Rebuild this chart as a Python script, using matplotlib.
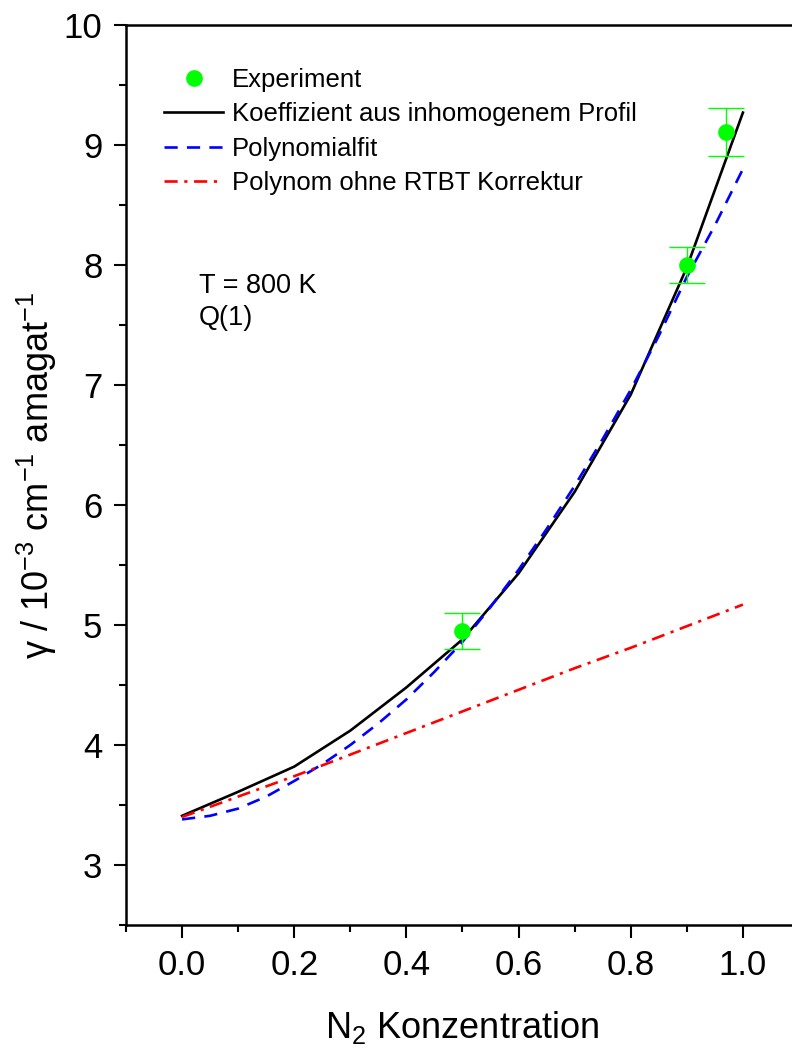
import matplotlib
matplotlib.use("Agg")
import matplotlib.pyplot as plt
from matplotlib.lines import Line2D
from matplotlib.ticker import MultipleLocator, FormatStrFormatter

plt.rcParams['font.family'] = ['Liberation Sans', 'DejaVu Sans']
plt.rcParams['mathtext.fontset'] = 'custom'
plt.rcParams['mathtext.rm'] = 'Liberation Sans'
plt.rcParams['mathtext.it'] = 'Liberation Sans:italic'
plt.rcParams['mathtext.bf'] = 'Liberation Sans:bold'

# Daten
x_exp = [0.5, 0.9, 0.97]
y_exp = [4.95, 8.0, 9.11]
err_exp = [0.15, 0.15, 0.2]

x_koef = [0.0, 0.1, 0.2, 0.3, 0.4, 0.5, 0.6, 0.7, 0.8, 0.9, 1.0]
y_koef = [3.41, 3.61, 3.82, 4.12, 4.48, 4.88, 5.43, 6.11, 6.92, 7.98, 9.27]

x_fit = [0.0, 0.05, 0.1, 0.15, 0.2, 0.25, 0.3, 0.35, 0.4, 0.45, 0.5,
         0.55, 0.6, 0.65, 0.7, 0.75, 0.8, 0.85, 0.9, 0.95, 1.0]
y_fit = [3.38, 3.41, 3.47, 3.57, 3.70, 3.84, 4.00, 4.18, 4.38, 4.61, 4.86,
         5.15, 5.46, 5.80, 6.16, 6.55, 6.96, 7.41, 7.90, 8.33, 8.80]

x_ohne = [0.0, 0.1, 0.2, 0.3, 0.4, 0.5, 0.6, 0.7, 0.8, 0.9, 1.0]
y_ohne = [3.40, 3.57, 3.74, 3.92, 4.10, 4.28, 4.46, 4.64, 4.81, 4.99, 5.17]

fig = plt.figure(figsize=(7.92, 10.55), dpi=100)
ax = fig.add_axes([126 / 792, 130 / 1055, 673 / 792, 900 / 1055])

ax.errorbar(x_exp, y_exp, yerr=err_exp, fmt='o', color='#00ff00', ms=11,
            elinewidth=1, capsize=13, capthick=1, zorder=3)
l1, = ax.plot(x_koef, y_koef, '-', color='black', lw=1.9)
l2, = ax.plot(x_fit, y_fit, color='blue', lw=1.9, dashes=(5, 3.5))
l3, = ax.plot(x_ohne, y_ohne, color='red', lw=1.9, dashes=(5, 2.5, 1.2, 2.5))

ax.set_xlim(-0.1, 1.1)
ax.set_ylim(2.5, 10)
ax.xaxis.set_major_locator(MultipleLocator(0.2))
ax.xaxis.set_minor_locator(MultipleLocator(0.1))
ax.xaxis.set_major_formatter(FormatStrFormatter('%.1f'))
ax.yaxis.set_minor_locator(MultipleLocator(0.5))
ax.set_yticks([3, 4, 5, 6, 7, 8, 9, 10])

for s in ax.spines.values():
    s.set_linewidth(1.8)
ax.spines['right'].set_visible(False)

ax.tick_params(which='major', direction='out', length=9, width=1.5,
               labelsize=25, pad=8)
ax.tick_params(which='minor', direction='out', length=5, width=1.5)
ax.tick_params(top=False, right=False, which='both')

ax.set_xlabel('N$_2$ Konzentration', fontsize=26, labelpad=20)
ax.set_ylabel('γ / 10$^{-3}$ cm$^{-1}$ amagat$^{-1}$', fontsize=26, labelpad=3)

ax.text(0.03, 7.93, 'T = 800 K\nQ(1)', fontsize=19.5, va='top', ha='left',
        linespacing=1.3)

# Legende: Experiment nur als Punkt
h_exp = Line2D([], [], ls='none', marker='o', color='#00ff00', ms=11)
ax.legend([h_exp, l1, l2, l3],
          ['Experiment', 'Koeffizient aus inhomogenem Profil',
           'Polynomialfit', 'Polynom ohne RTBT Korrektur'],
          loc='upper left', bbox_to_anchor=(164 / 792, 1 - 68 / 1055),
          bbox_transform=fig.transFigure, frameon=False, fontsize=18.5,
          handlelength=2.3, handletextpad=0.35, labelspacing=0.4,
          borderpad=0, borderaxespad=0, numpoints=1)

plt.savefig("out.png", dpi=100)
